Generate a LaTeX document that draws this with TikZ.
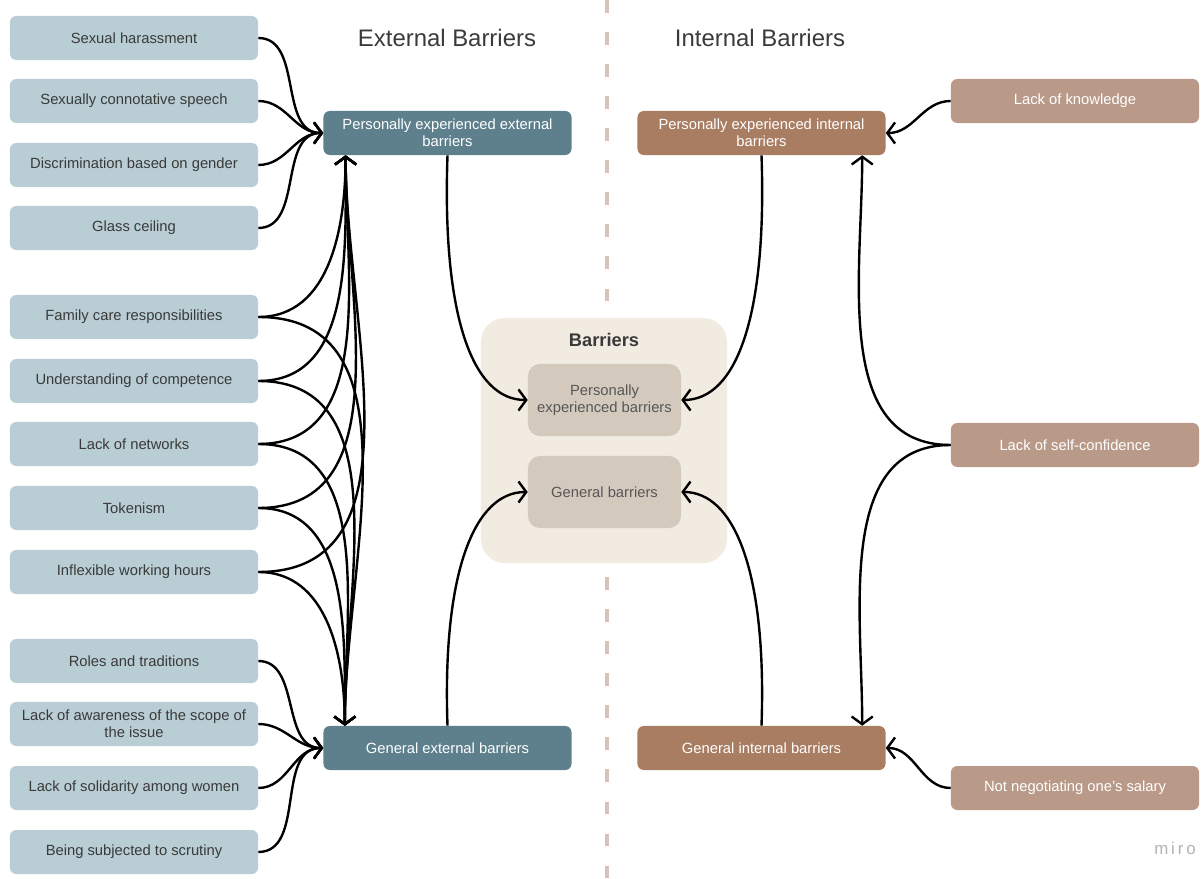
\documentclass[tikz,border=0pt]{standalone}
\usepackage{fontspec}
\setmainfont{Liberation Sans}
\usepackage{tikz}
\usetikzlibrary{arrows.meta}
\definecolor{extlight}{HTML}{B8CDD4}
\definecolor{extdark}{HTML}{5D808C}
\definecolor{intdark}{HTML}{A97D62}
\definecolor{intlight}{HTML}{B99A88}
\definecolor{barbg}{HTML}{F1EBE1}
\definecolor{barin}{HTML}{D4C9BD}
\definecolor{dashcol}{HTML}{D6C4BC}
\definecolor{txt}{HTML}{3A3A3A}
\tikzset{bx/.style={rectangle, rounded corners=4.5pt, minimum width=6.2cm, minimum height=1.1cm, inner sep=1pt, align=center, font=\fontsize{10.5}{12}\selectfont}}
\tikzset{ext/.style={bx, fill=extlight, text=txt}}
\tikzset{extd/.style={bx, fill=extdark, text=white}}
\tikzset{intd/.style={bx, fill=intdark, text=white}}
\tikzset{intl/.style={bx, fill=intlight, text=white}}
\tikzset{cbox/.style={rectangle, rounded corners=0.3cm, fill=barin, text=txt!85, minimum width=3.825cm, minimum height=1.8cm, align=center, font=\fontsize{10.5}{12.5}\selectfont}}
\tikzset{ttl/.style={text=txt, font=\fontsize{17}{20}\selectfont}}
\tikzset{arr/.style={-{Straight Barb[length=5.5pt,width=15pt]}, line width=1.7pt}}

\begin{document}
\begin{tikzpicture}[x=0.025cm, y=0.025cm]
  \useasboundingbox (0,0) rectangle (1203,-879);
  % separator
  \draw[dashcol, line width=2.2pt, dash pattern=on 9pt off 13.8pt] (607,0) -- (607,-879);
  % titles
  \node[ttl] (EXT) at (447,-38) {External Barriers};
  \node[ttl] (INT) at (760,-38) {Internal Barriers};
  % external factors
  \node[ext] (SH) at (134,-38) {Sexual harassment};
  \node[ext] (SC) at (134,-101) {Sexually connotative speech};
  \node[ext] (DG) at (134,-165) {Discrimination based on gender};
  \node[ext] (GC) at (134,-228) {Glass ceiling};
  \node[ext] (FC) at (134,-317) {Family care responsibilities};
  \node[ext] (UC) at (134,-381) {Understanding of competence};
  \node[ext] (LN) at (134,-444) {Lack of networks};
  \node[ext] (TK) at (134,-508) {Tokenism};
  \node[ext] (IW) at (134,-572) {Inflexible working hours};
  \node[ext] (RT) at (134,-661) {Roles and traditions};
  \node[ext] (LA) at (134,-724) {Lack of awareness of the scope of\\the issue};
  \node[ext] (LS) at (134,-788) {Lack of solidarity among women};
  \node[ext] (SS) at (134,-852) {Being subjected to scrutiny};
  % groups
  \node[extd] (PEE) at (447.5,-133) {Personally experienced external\\barriers};
  \node[extd] (GEE) at (447.5,-748) {General external barriers};
  \node[intd] (PEI) at (761.5,-133) {Personally experienced internal\\barriers};
  \node[intd] (GEI) at (761.5,-748) {General internal barriers};
  % internal factors
  \node[intl] (LK) at (1075,-101) {Lack of knowledge};
  \node[intl] (LSC) at (1075,-445) {Lack of self-confidence};
  \node[intl] (NN) at (1075,-788) {Not negotiating one's salary};
  % centre
  \node[rectangle, rounded corners=0.6cm, fill=barbg, minimum width=6.15cm, minimum height=6.125cm] (BAR) at (604,-440.5) {};
  \node[text=txt, font=\bfseries\fontsize{13}{15}\selectfont] (BT) at (604,-340) {Barriers};
  \node[cbox] (PB) at (604.5,-400) {Personally\\experienced barriers};
  \node[cbox] (GB) at (604.5,-492) {General barriers};
  % miro mark
  \node[text=black!30, font=\fontsize{12}{14}\selectfont] (MI) at (1175,-848) {m\,i\,r\,o};
  % external -> personally experienced
  \draw[arr] (SH.east) to[out=0, in=180] (PEE.west);
  \draw[arr] (SC.east) to[out=0, in=180] (PEE.west);
  \draw[arr] (DG.east) to[out=0, in=180] (PEE.west);
  \draw[arr] (GC.east) to[out=0, in=180] (PEE.west);
  \draw[arr] (FC.east) to[out=0, in=-90] ([xshift=0.56cm]PEE.south west);
  \draw[arr] (UC.east) to[out=0, in=-90] ([xshift=0.56cm]PEE.south west);
  \draw[arr] (LN.east) to[out=0, in=-90] ([xshift=0.56cm]PEE.south west);
  \draw[arr] (TK.east) to[out=0, in=-90] ([xshift=0.56cm]PEE.south west);
  \draw[arr] (IW.east) to[out=0, in=-90] ([xshift=0.56cm]PEE.south west);
  % external -> general
  \draw[arr] (FC.east) to[out=0, in=90] ([xshift=0.54cm]GEE.north west);
  \draw[arr] (UC.east) to[out=0, in=90] ([xshift=0.54cm]GEE.north west);
  \draw[arr] (LN.east) to[out=0, in=90] ([xshift=0.54cm]GEE.north west);
  \draw[arr] (TK.east) to[out=0, in=90] ([xshift=0.54cm]GEE.north west);
  \draw[arr] (IW.east) to[out=0, in=90] ([xshift=0.54cm]GEE.north west);
  \draw[arr] (RT.east) to[out=0, in=180] (GEE.west);
  \draw[arr] (LA.east) to[out=0, in=180] (GEE.west);
  \draw[arr] (LS.east) to[out=0, in=180] (GEE.west);
  \draw[arr] (SS.east) to[out=0, in=180] (GEE.west);
  % groups -> barriers
  \draw[arr] (PEE.south) to[out=-92, in=180, out looseness=1.6, in looseness=0.55] (PB.west);
  \draw[arr] (GEE.north) to[out=92, in=180, out looseness=1.6, in looseness=0.55] (GB.west);
  \draw[arr] (PEI.south) to[out=-88, in=0, out looseness=1.6, in looseness=0.55] (PB.east);
  \draw[arr] (GEI.north) to[out=88, in=0, out looseness=1.6, in looseness=0.55] (GB.east);
  % internal factors -> groups
  \draw[arr] (LK.west) to[out=180, in=0] (PEI.east);
  \draw[arr] (LSC.west) to[out=180, in=-90] ([xshift=-0.59cm]PEI.south east);
  \draw[arr] (LSC.west) to[out=180, in=90] ([xshift=-0.59cm]GEI.north east);
  \draw[arr] (NN.west) to[out=180, in=0] (GEI.east);
\end{tikzpicture}
\end{document}
